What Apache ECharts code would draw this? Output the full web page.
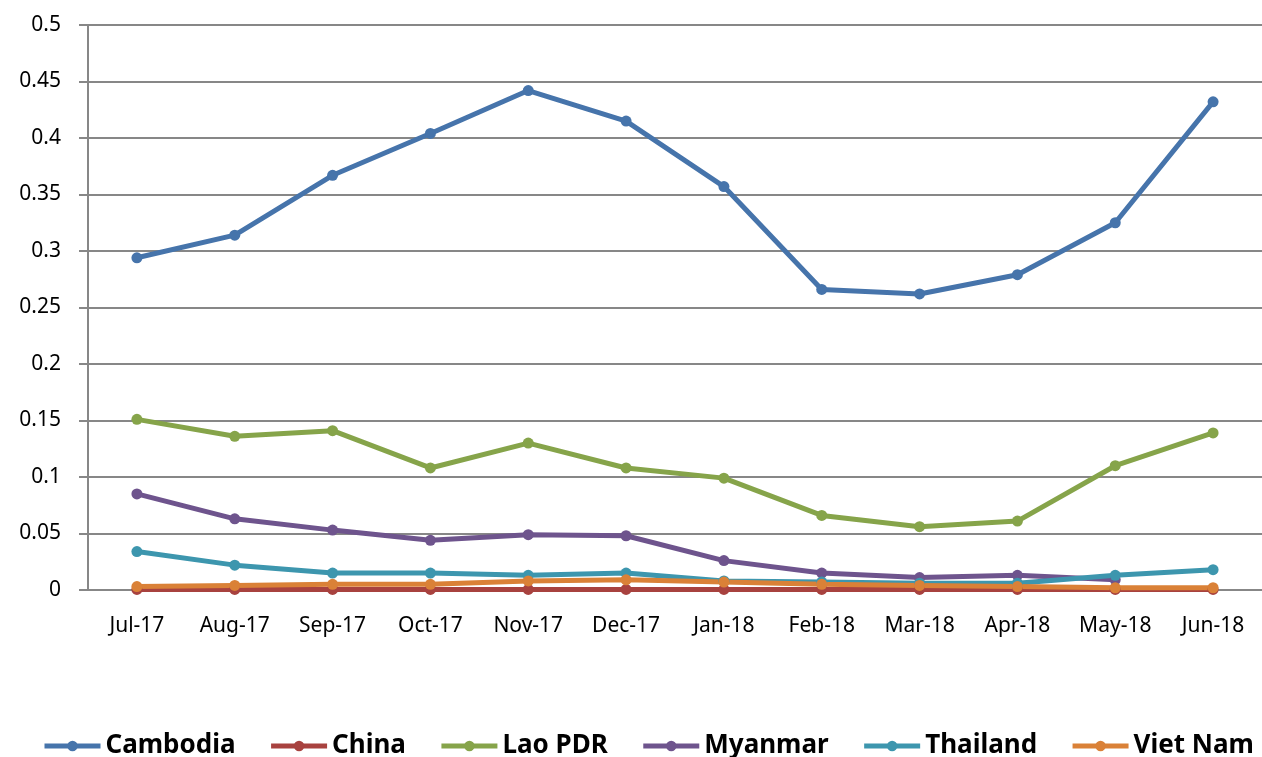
<!DOCTYPE html>
<html>
<head>
<meta charset="utf-8">
<script src="https://cdn.jsdelivr.net/npm/echarts@6/dist/echarts.min.js"></script>
<style>
  html, body { margin: 0; padding: 0; background: #fff; }
  #main { width: 1262px; height: 757px; }
</style>
</head>
<body>
<div id="main"></div>
<script>
const months = ['Jul-17', 'Aug-17', 'Sep-17', 'Oct-17', 'Nov-17', 'Dec-17', 'Jan-18', 'Feb-18', 'Mar-18', 'Apr-18', 'May-18', 'Jun-18']
const cambodia = [0.294, 0.314, 0.367, 0.404, 0.442, 0.415, 0.357, 0.266, 0.262, 0.279, 0.325, 0.432]
const china = [0.0005, 0.0005, 0.0005, 0.0005, 0.0005, 0.0005, 0.0005, 0.0005, 0.0005, 0.0005, 0.0005, 0.0005]
const laoPdr = [0.151, 0.136, 0.141, 0.108, 0.130, 0.108, 0.099, 0.066, 0.056, 0.061, 0.110, 0.139]
const myanmar = [0.085, 0.063, 0.053, 0.044, 0.049, 0.048, 0.026, 0.015, 0.011, 0.013, 0.009, null]
const thailand = [0.034, 0.022, 0.015, 0.015, 0.013, 0.015, 0.008, 0.007, 0.006, 0.006, 0.013, 0.018]
const vietNam = [0.003, 0.004, 0.005, 0.005, 0.008, 0.009, 0.007, 0.005, 0.004, 0.003, 0.002, 0.002]

const colors = ['#4674AB', '#A8423F', '#86A44A', '#6E548D', '#3D96AE', '#DA8137']
const font = 'Noto Sans'

function line(name, data) {
  return {
    name: name,
    type: 'line',
    data: data,
    symbol: 'circle',
    symbolSize: 11,
    lineStyle: { width: 5 },
    connectNulls: false,
  }
}

const chart = echarts.init(document.getElementById('main'))
chart.setOption({
  animation: false,
  color: colors,
  textStyle: { fontFamily: font },
  grid: { left: 88, top: 25, width: 1180, height: 565, containLabel: false },
  legend: {
    left: 42,
    top: 733,
    width: 1400,
    padding: 0,
    itemWidth: 56,
    itemHeight: 13,
    itemGap: 33,
    lineStyle: { width: 5 },
    textStyle: {
      fontFamily: font,
      fontSize: 26,
      fontWeight: 'bold',
      color: '#000',
    },
    data: ['Cambodia', 'China', 'Lao PDR', 'Myanmar', 'Thailand', 'Viet Nam'],
  },
  xAxis: {
    type: 'category',
    data: months,
    boundaryGap: true,
    axisLine: { lineStyle: { color: '#878787', width: 2 } },
    axisTick: { length: 8, lineStyle: { color: '#878787', width: 2 } },
    axisLabel: { color: '#000', fontSize: 21, margin: 26, fontFamily: font },
  },
  yAxis: {
    type: 'value',
    min: 0,
    max: 0.5,
    interval: 0.05,
    axisLine: { show: true, lineStyle: { color: '#878787', width: 2 } },
    axisTick: { show: true, inside: false, length: 9, lineStyle: { color: '#878787', width: 2 } },
    splitLine: { lineStyle: { color: '#878787', width: 2 } },
    axisLabel: {
      color: '#000',
      fontSize: 21,
      margin: 27,
      fontFamily: font,
      formatter: (v) => String(Number(v.toFixed(2))),
    },
  },
  series: [
    line('Cambodia', cambodia),
    line('China', china),
    line('Lao PDR', laoPdr),
    line('Myanmar', myanmar),
    line('Thailand', thailand),
    line('Viet Nam', vietNam),
  ],
})
</script>
</body>
</html>
